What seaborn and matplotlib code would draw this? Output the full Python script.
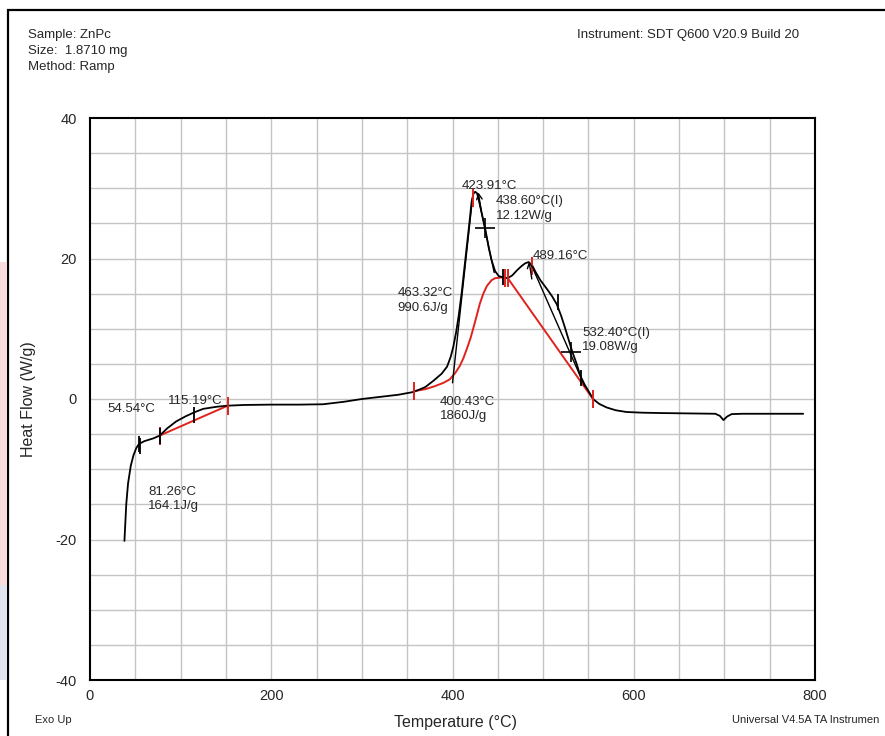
import matplotlib
matplotlib.use("Agg")
import matplotlib.pyplot as plt
from matplotlib.patches import Rectangle
from matplotlib.ticker import MultipleLocator
import seaborn as sns

# data ------------------------------------------------------------------------------
temp = [38, 40, 42, 45, 48, 51, 54, 60, 70, 77, 85, 95, 105, 115, 125, 140, 152,
        170, 200, 230, 257, 280, 300, 320, 340, 357, 370, 379, 388, 394, 398, 401,
        404, 407, 410, 413, 416, 419, 421, 423, 425, 427, 429, 432, 436, 440, 443,
        447, 451, 456, 461, 466, 471, 476, 480, 484, 488, 492, 497, 504, 510, 515,
        520, 524, 528, 532, 537, 541, 546, 552, 556, 562, 570, 580, 592, 610, 630,
        660, 690, 695, 699, 703, 708, 720, 750, 787]
heat_flow = [-20.2, -15.0, -12.0, -9.5, -8.0, -7.0, -6.4, -6.0, -5.6, -5.2, -4.2, -3.2,
             -2.5, -1.9, -1.4, -1.1, -0.95, -0.85, -0.8, -0.8, -0.75, -0.4, 0.0, 0.3,
             0.6, 1.0, 1.7, 2.6, 3.6, 4.6, 6.0, 7.5, 9.5, 12.0, 15.0, 18.5, 22.0, 25.5,
             28.0, 29.2, 29.5, 29.3, 28.4, 26.6, 24.3, 21.5, 19.8, 18.2, 17.5, 17.3,
             17.2, 17.6, 18.3, 18.9, 19.3, 19.5, 19.0, 18.0, 16.9, 15.7, 14.6, 13.5,
             11.8, 10.2, 8.5, 6.8, 5.0, 3.3, 2.0, 0.7, -0.1, -0.7, -1.2, -1.6, -1.85,
             -1.95, -2.0, -2.05, -2.1, -2.4, -3.0, -2.5, -2.15, -2.1, -2.1, -2.1]

# integration baselines (red)
base1_t = [77, 152]
base1_hf = [-5.2, -0.95]
base2_t = [357, 370, 380, 390, 397, 403, 408, 412, 416, 420, 423, 427, 430, 434, 438,
           443, 447, 454, 461, 555]
base2_hf = [1.1, 1.4, 1.8, 2.3, 2.8, 3.7, 4.7, 5.8, 7.2, 8.7, 10.1, 12.0, 13.5, 15.0,
            16.1, 16.9, 17.2, 17.3, 17.2, 0.0]

# tangent lines (black)
tan1_t = [400, 422]
tan1_hf = [2.3, 28.5]
tan2_t = [428, 446]
tan2_hf = [29.0, 18.0]
tan3_t = [488, 546]
tan3_hf = [18.8, 1.8]

# limit markers
red_tick_t = [77, 152, 357, 423, 458, 461, 488, 555]
red_tick_hf = [-5.2, -0.95, 1.1, 28.6, 17.2, 17.2, 19.0, 0.0]
black_tick_t = [54, 55, 77, 115, 456, 516, 542]
black_tick_hf = [-6.4, -6.7, -5.2, -2.3, 17.3, 13.8, 3.0]
cross_t = [436, 531]
cross_hf = [24.4, 6.7]
arrow_t = [430, 486]
arrow_hf = [29.0, 19.2]

# annotation labels (text, T, HF of first line)
labels = [
    ("423.91°C", 410, 31.2),
    ("438.60°C(I)\n12.12W/g", 448, 29.0),
    ("489.16°C", 488, 21.2),
    ("463.32°C\n990.6J/g", 339, 15.9),
    ("532.40°C(I)\n19.08W/g", 543, 10.3),
    ("400.43°C\n1860J/g", 386, 0.4),
    ("54.54°C", 19, -0.6),
    ("115.19°C", 86, 0.6),
    ("81.26°C\n164.1J/g", 64, -12.4),
]

W, H = 885, 736

sns.set_style("white")
plt.rcParams['font.family'] = ['Liberation Sans', 'DejaVu Sans']
plt.rcParams['axes.unicode_minus'] = False

fig = plt.figure(figsize=(W / 100, H / 100), dpi=100)
ax = fig.add_axes([90 / W, 1 - 680 / H, 725 / W, 562 / H])

# gridlines every 50 C / 5 W/g
ax.xaxis.set_minor_locator(MultipleLocator(50))
ax.yaxis.set_minor_locator(MultipleLocator(10))
ax.set_xticks([0, 200, 400, 600, 800])
ax.set_yticks([-40, -20, 0, 20, 40])
for gx in range(50, 800, 50):
    ax.axvline(gx, color="#c4c4c4", lw=1.0, zorder=0)
for gy in range(-35, 40, 5):
    ax.axhline(gy, color="#c4c4c4", lw=1.0, zorder=0)

sns.lineplot(x=base1_t, y=base1_hf, ax=ax, color="#e0221c", lw=1.4, sort=False, estimator=None)
sns.lineplot(x=base2_t, y=base2_hf, ax=ax, color="#e0221c", lw=1.4, sort=False, estimator=None)
for tt, th in [(tan1_t, tan1_hf), (tan2_t, tan2_hf), (tan3_t, tan3_hf)]:
    sns.lineplot(x=tt, y=th, ax=ax, color="black", lw=1.0, sort=False, estimator=None)
sns.lineplot(x=temp, y=heat_flow, ax=ax, color="black", lw=1.3, sort=False, estimator=None)

ax.plot(red_tick_t, red_tick_hf, ls="", marker="|", ms=13, mew=1.4, color="#e0221c")
ax.plot(black_tick_t, black_tick_hf, ls="", marker="|", ms=11, mew=1.3, color="black")
ax.plot(cross_t, cross_hf, ls="", marker="+", ms=14, mew=1.2, color="black")
for at, ah in zip(arrow_t, arrow_hf):
    ax.annotate("", xy=(at - 2, ah + 0.8), xytext=(at + 2, ah - 2.5),
                arrowprops=dict(arrowstyle="->", color="black", lw=1.0))

for txt, lt, lh in labels:
    ax.text(lt, lh, txt, fontsize=9.5, ha="left", va="top", linespacing=1.25)

ax.set_xlim(0, 800)
ax.set_ylim(-40, 40)
ax.tick_params(axis="both", which="major", labelsize=10.5, length=6, width=1.2)
ax.tick_params(axis="x", which="both", direction="inout")
ax.tick_params(axis="x", which="minor", length=7, width=1.0)
ax.tick_params(axis="y", which="both", direction="out")
ax.tick_params(axis="y", which="minor", length=4, width=1.0)
ax.tick_params(axis="x", which="major", length=9, pad=2)
for s in ax.spines.values():
    s.set_linewidth(1.5)
    s.set_color("black")
ax.set_xlabel("")
ax.set_ylabel("Heat Flow (W/g)", fontsize=11.5, labelpad=14)

# header / footer texts, placed in pixel coordinates
def ftext(px, py, s, **kw):
    fig.text(px / W, 1 - py / H, s, va="center", **kw)

ftext(28, 35, "Sample: ZnPc", fontsize=9.5)
ftext(28, 51, "Size:  1.8710 mg", fontsize=9.5)
ftext(28, 67, "Method: Ramp", fontsize=9.5)
ftext(577, 35, "Instrument: SDT Q600 V20.9 Build 20", fontsize=9.5)
ftext(35, 720, "Exo Up", fontsize=8)
ftext(455, 722, "Temperature (°C)", fontsize=11.5, ha="center")
ftext(732, 720, "Universal V4.5A TA Instrumen", fontsize=8)

# outer frame and the screenshot strip on the left edge
fig.patches.append(Rectangle((8 / W, -0.1), 1.2, 1 - 10 / H + 0.1, transform=fig.transFigure,
                             fill=False, lw=1.6, ec="black"))
fig.patches.append(Rectangle((0, 1 - 585 / H), 7 / W, 323 / H, transform=fig.transFigure,
                             color="#f6dcdc", lw=0))
fig.patches.append(Rectangle((0, 1 - 680 / H), 7 / W, 95 / H, transform=fig.transFigure,
                             color="#dfe4ee", lw=0))

fig.savefig("out.png", dpi=100)
